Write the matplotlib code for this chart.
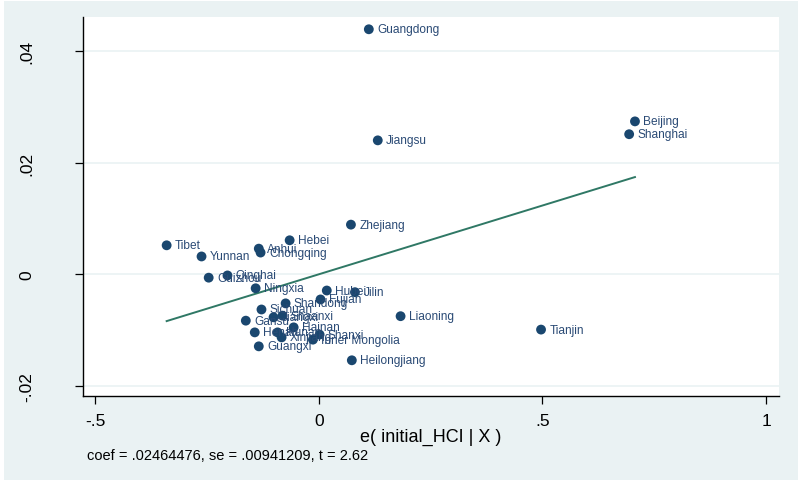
import matplotlib
matplotlib.use("Agg")
import matplotlib.pyplot as plt
from matplotlib.patches import Rectangle
import numpy as np

# residuos del avplot: e(initial_HCI | X) contra e(y | X)
provincias = ["Guangdong", "Beijing", "Shanghai", "Jiangsu", "Zhejiang", "Hebei",
              "Tibet", "Anhui", "Chongqing", "Yunnan", "Qinghai", "Guizhou",
              "Ningxia", "Hubei", "Jilin", "Fujian", "Shandong", "Sichuan",
              "Jiangxi", "Shaanxi", "Gansu", "Liaoning", "Tianjin", "Hainan",
              "Henan", "Hunan", "Xinjiang", "Inner Mongolia", "Shanxi", "Guangxi",
              "Heilongjiang"]
e_hci = [0.112, 0.707, 0.694, 0.132, 0.072, -0.065,
         -0.340, -0.134, -0.130, -0.262, -0.204, -0.246,
         -0.141, 0.018, 0.081, 0.004, -0.074, -0.128,
         -0.101, -0.081, -0.163, 0.183, 0.497, -0.056,
         -0.143, -0.092, -0.083, -0.013, 0.002, -0.134,
         0.074]
e_y = [0.0439, 0.0274, 0.0251, 0.0240, 0.0089, 0.0061,
       0.0052, 0.0046, 0.0039, 0.0032, -0.0002, -0.0006,
       -0.0025, -0.0029, -0.0032, -0.0045, -0.0052, -0.0063,
       -0.0077, -0.0074, -0.0083, -0.0075, -0.0099, -0.0095,
       -0.0104, -0.0104, -0.0113, -0.0117, -0.0108, -0.0129,
       -0.0154]

coef = 0.02464476
se = 0.00941209
t = 2.62

xticks = [-0.5, 0, 0.5, 1]
xtick_labels = ["-.5", "0", ".5", "1"]
yticks = [-0.02, 0, 0.02, 0.04]
ytick_labels = ["-.02", "0", ".02", ".04"]

fondo = "#eaf2f3"
azul = "#1a476f"
verde = "#2f7865"

plt.rcParams["font.family"] = ["Liberation Sans", "DejaVu Sans"]

fig = plt.figure(figsize=(8.0, 4.81), dpi=100)
fig.patch.set_facecolor("white")
# region del grafico con un borde blanco fino
fig.patches.append(Rectangle((4 / 800, 0), 794 / 800, 479 / 481,
                             transform=fig.transFigure, facecolor=fondo,
                             edgecolor="none", zorder=-5))

ax = fig.add_axes([0.10375, 0.1746, 0.87, 0.788])
ax.set_zorder(1)
ax.set_facecolor("white")

x = np.array(e_hci)
y = np.array(e_y)

# linea ajustada (los residuos tienen media cero)
xs = np.array([x.min(), x.max()])
ax.plot(xs, coef * xs, color=verde, lw=1.4, zorder=2)

ax.scatter(x, y, s=50, color=azul, edgecolors="none", zorder=3)
for nombre, xi, yi in zip(provincias, x, y):
    ax.annotate(nombre, (xi, yi), xytext=(6, 0), textcoords="offset points",
                va="center", ha="left", fontsize=8.6, color="#2a4a75", zorder=4)

ax.set_xlim(-0.527, 1.029)
ax.set_ylim(-0.0218, 0.0461)
ax.set_xticks(xticks)
ax.set_xticklabels(xtick_labels)
ax.set_yticks(yticks)
ax.set_yticklabels(ytick_labels, rotation=90, va="center")

ax.grid(axis="y", color=fondo, lw=1.2)
ax.set_axisbelow(True)
for lado in ["top", "right"]:
    ax.spines[lado].set_visible(False)
for lado in ["left", "bottom"]:
    ax.spines[lado].set_color("black")
    ax.spines[lado].set_linewidth(1.0)

ax.tick_params(axis="x", length=6, width=0.9, labelsize=12.5, pad=6)
ax.tick_params(axis="y", length=6, width=0.9, labelsize=12.5, pad=29)

ax.set_xlabel("e( initial_HCI | X )", fontsize=13, labelpad=0)
fig.text(0.109, 0.052, "coef = %.8f, se = %.8f, t = %.2f" % (coef, se, t),
         fontsize=10.5, ha="left", va="center")
# quitar el cero inicial como hace Stata
for txt in fig.texts:
    txt.set_text(txt.get_text().replace("0.0", ".0"))

fig.savefig("out.png", dpi=100, facecolor=fig.get_facecolor())
